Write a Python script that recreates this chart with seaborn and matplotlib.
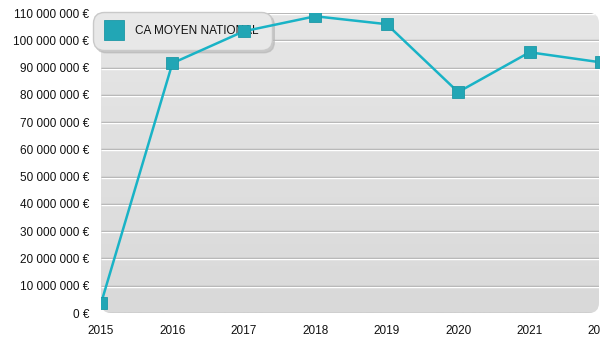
import numpy as np
import pandas as pd
import matplotlib
matplotlib.use("Agg")
import matplotlib.pyplot as plt
import matplotlib.transforms as mtransforms
from matplotlib.patches import FancyBboxPatch
from matplotlib.lines import Line2D
from matplotlib.ticker import FuncFormatter, MultipleLocator
import seaborn as sns

years = [2015, 2016, 2017, 2018, 2019, 2020, 2021, 2022]
ca_moyen = [3_500_000, 91_600_000, 103_300_000, 108_800_000, 105_900_000,
            81_000_000, 95_600_000, 91_900_000]
series_label = "CA MOYEN NATIONAL"

df = pd.DataFrame({"annee": years, "ca": ca_moyen})

sns.set_style("white")
plt.rcParams["font.family"] = ["Liberation Sans", "DejaVu Sans"]

W, H = 600, 350
fig = plt.figure(figsize=(W / 100, H / 100), dpi=100)
fig.patch.set_facecolor("white")
L, B, R, T = 101, 37, 601, 337
ax = fig.add_axes([L / W, B / H, (R - L) / W, (T - B) / H])
ax.set_facecolor("none")
for s in ax.spines.values():
    s.set_visible(False)

# rounded plot background with a soft vertical gradient
bg = FancyBboxPatch((L, B), W - 1 - L, T - B,
                    boxstyle="round,pad=0,rounding_size=10",
                    transform=mtransforms.IdentityTransform(),
                    facecolor="none", edgecolor="none")
ax.add_patch(bg)
grad = np.linspace(0, 1, 256).reshape(-1, 1)
img = ax.imshow(grad, extent=[0, 1, 0, 1], transform=ax.transAxes,
                cmap=matplotlib.colors.LinearSegmentedColormap.from_list(
                    "bg", ["#d9d9d9", "#e6e6e6"]),
                origin="lower", aspect="auto", zorder=0)
img.set_clip_path(bg)

# horizontal grid: gray line with a white highlight underneath
white_off = mtransforms.ScaledTranslation(0, -1 / 100, fig.dpi_scale_trans)
blend = mtransforms.blended_transform_factory(ax.transAxes, ax.transData)
for v in range(0, 110_000_001, 10_000_000):
    gl, = ax.plot([0, 1], [v, v], color="#a9a9a9", lw=1.0, zorder=1,
                  transform=blend, solid_capstyle="butt")
    gl.set_clip_path(bg)
    if v > 0:
        wl, = ax.plot([0, 1], [v, v], color="white", lw=1.0, zorder=1,
                      transform=blend + white_off, solid_capstyle="butt")
        wl.set_clip_path(bg)

sns.lineplot(data=df, x="annee", y="ca", ax=ax, color="#19b3c6", lw=1.8,
             marker="s", markersize=9, markerfacecolor="#22a6b5",
             markeredgecolor="#1c98a6", markeredgewidth=0.6, zorder=4,
             legend=False)

ax.set_xlim(2015, 2022)
ax.set_ylim(0, 110_000_000)
ax.xaxis.set_major_locator(MultipleLocator(1))
ax.yaxis.set_major_locator(MultipleLocator(10_000_000))
ax.yaxis.set_major_formatter(FuncFormatter(
    lambda v, p: f"{int(round(v)):,}".replace(",", " ") + " €"))
ax.xaxis.set_major_formatter(FuncFormatter(lambda v, p: f"{int(round(v))}"))
ax.tick_params(axis="y", length=0, pad=8.6, labelsize=8.5, labelcolor="#111111")
ax.tick_params(axis="x", length=0, pad=9, labelsize=8.5, labelcolor="#111111")
ax.set_xlabel("")
ax.set_ylabel("")

handle = Line2D([], [], linestyle="none", marker="s", markersize=14.4,
                markerfacecolor="#22a6b5", markeredgecolor="#1c98a6",
                markeredgewidth=0.6)
leg = ax.legend([handle], [series_label], loc="upper left",
                bbox_to_anchor=(93 / W, 1 - 12 / H), bbox_transform=fig.transFigure,
                frameon=True, fancybox=True,
                shadow={"color": "#b5b5b5", "alpha": 0.6},
                framealpha=1, facecolor="#e8e8e8", edgecolor="#c9c9c9",
                fontsize=8.5, borderpad=1.1, handletextpad=1.1,
                handlelength=1.36, borderaxespad=0, labelcolor="#111111")
leg.set_zorder(2)
leg.get_frame().set_boxstyle("round,pad=0,rounding_size=0.9")

fig.savefig("out.png", dpi=100, facecolor="white")
